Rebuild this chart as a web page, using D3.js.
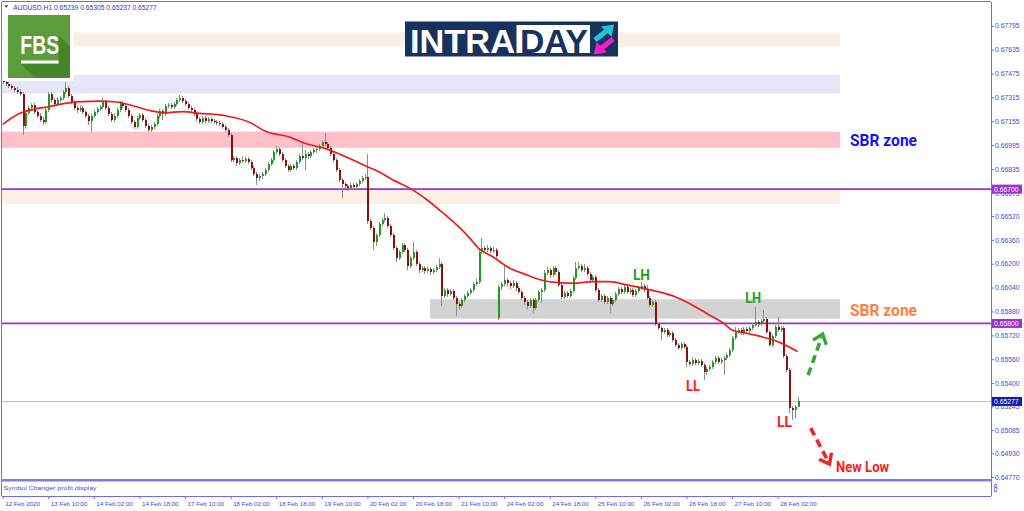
<!DOCTYPE html>
<html><head><meta charset="utf-8">
<script src="https://cdn.jsdelivr.net/npm/d3@7"></script>
<style>html,body{margin:0;padding:0;background:#fff;overflow:hidden}</style>
</head><body>
<svg id="chart" width="1024" height="511"></svg>
<script>
// ---------------- DATA (AUDUSD H1) ----------------
const symbolName = "AUDUSD,H1";
const barOpen = [
0.67431,0.67418,0.67404,0.67391,0.67377,0.67364,0.67351,0.67337,0.67123,0.67210,
0.67243,0.67264,0.67217,0.67190,0.67163,0.67150,0.67230,0.67337,0.67297,0.67270,
0.67297,0.67310,0.67351,0.67377,0.67324,0.67284,0.67243,0.67230,0.67243,0.67217,
0.67190,0.67156,0.67190,0.67217,0.67237,0.67250,0.67284,0.67243,0.67203,0.67163,
0.67190,0.67230,0.67277,0.67257,0.67230,0.67190,0.67150,0.67116,0.67176,0.67197,
0.67163,0.67123,0.67096,0.67116,0.67136,0.67190,0.67223,0.67203,0.67257,0.67264,
0.67250,0.67270,0.67297,0.67310,0.67290,0.67270,0.67243,0.67230,0.67203,0.67170,
0.67150,0.67176,0.67156,0.67170,0.67156,0.67150,0.67143,0.67136,0.67116,0.67096,
0.67063,0.66895,0.66908,0.66875,0.66895,0.66888,0.66902,0.66882,0.66841,0.66801,
0.66774,0.66788,0.66801,0.66828,0.66868,0.66895,0.66949,0.66969,0.66935,0.66895,
0.66855,0.66828,0.66855,0.66841,0.66882,0.66922,0.66908,0.66935,0.66922,0.66949,
0.66962,0.66969,0.66989,0.67016,0.67002,0.66975,0.66935,0.66895,0.66828,0.66761,
0.66734,0.66721,0.66707,0.66728,0.66714,0.66734,0.66754,0.66774,0.66781,0.66486,
0.66439,0.66346,0.66392,0.66466,0.66493,0.66506,0.66453,0.66392,0.66305,0.66239,
0.66279,0.66326,0.66292,0.66185,0.66239,0.66279,0.66198,0.66158,0.66171,0.66151,
0.66165,0.66145,0.66158,0.66178,0.66198,0.65984,0.66024,0.65997,0.66017,0.65970,
0.65930,0.65917,0.65957,0.65984,0.66004,0.66024,0.66064,0.66078,0.66279,0.66305,
0.66292,0.66305,0.66285,0.66292,0.65836,0.66044,0.66064,0.66091,0.66071,0.66051,
0.66071,0.66037,0.66011,0.65970,0.65943,0.65917,0.65957,0.65903,0.65957,0.66011,
0.66024,0.66138,0.66158,0.66125,0.66171,0.66145,0.66058,0.65977,0.66004,0.65984,
0.66017,0.66104,0.66171,0.66185,0.66158,0.66171,0.66131,0.66091,0.66111,0.66024,
0.65957,0.65984,0.65943,0.65970,0.65930,0.65957,0.65997,0.66031,0.66011,0.66044,
0.66011,0.66024,0.65991,0.66017,0.66037,0.66051,0.66024,0.65970,0.65923,0.65943,
0.65796,0.65769,0.65743,0.65756,0.65722,0.65736,0.65689,0.65655,0.65635,0.65662,
0.65642,0.65541,0.65528,0.65555,0.65534,0.65548,0.65521,0.65474,0.65494,0.65508,
0.65541,0.65568,0.65541,0.65555,0.65568,0.65588,0.65622,0.65702,0.65743,0.65756,
0.65736,0.65763,0.65749,0.65769,0.65789,0.65809,0.65796,0.65816,0.65830,0.65743,
0.65655,0.65716,0.65776,0.65756,0.65769,0.65582,0.65488,0.65233,0.65220,0.65239];
const barHigh = [
0.67444,0.67431,0.67418,0.67404,0.67391,0.67384,0.67371,0.67351,0.67223,0.67257,
0.67277,0.67277,0.67230,0.67210,0.67183,0.67243,0.67351,0.67351,0.67310,0.67317,
0.67324,0.67364,0.67418,0.67391,0.67337,0.67297,0.67257,0.67264,0.67257,0.67230,
0.67203,0.67203,0.67230,0.67250,0.67264,0.67310,0.67297,0.67257,0.67217,0.67210,
0.67243,0.67290,0.67290,0.67270,0.67243,0.67203,0.67163,0.67190,0.67210,0.67210,
0.67176,0.67136,0.67130,0.67150,0.67203,0.67237,0.67237,0.67270,0.67277,0.67277,
0.67284,0.67310,0.67331,0.67324,0.67304,0.67284,0.67257,0.67243,0.67217,0.67183,
0.67190,0.67190,0.67183,0.67183,0.67170,0.67163,0.67156,0.67150,0.67130,0.67109,
0.67076,0.66922,0.66922,0.66908,0.66915,0.66915,0.66915,0.66895,0.66855,0.66815,
0.66801,0.66815,0.66841,0.66882,0.66908,0.66962,0.66989,0.66982,0.66949,0.66908,
0.66868,0.66868,0.66868,0.66895,0.66935,0.67009,0.66962,0.66949,0.66962,0.66975,
0.66982,0.67002,0.67029,0.67076,0.67016,0.66989,0.66949,0.66908,0.66841,0.66774,
0.66748,0.66734,0.66741,0.66741,0.66748,0.66768,0.66788,0.66801,0.66935,0.66500,
0.66453,0.66406,0.66480,0.66506,0.66540,0.66520,0.66466,0.66406,0.66319,0.66292,
0.66339,0.66339,0.66305,0.66252,0.66346,0.66292,0.66212,0.66185,0.66185,0.66178,
0.66178,0.66171,0.66192,0.66239,0.66212,0.66037,0.66037,0.66031,0.66031,0.65984,
0.65943,0.65970,0.65997,0.66017,0.66037,0.66078,0.66098,0.66292,0.66372,0.66319,
0.66326,0.66319,0.66312,0.66305,0.66058,0.66078,0.66192,0.66104,0.66084,0.66091,
0.66084,0.66051,0.66024,0.65984,0.65957,0.65970,0.65970,0.65970,0.66024,0.66037,
0.66158,0.66178,0.66171,0.66185,0.66185,0.66158,0.66071,0.66017,0.66017,0.66031,
0.66118,0.66212,0.66212,0.66198,0.66198,0.66185,0.66145,0.66125,0.66125,0.66037,
0.65997,0.65997,0.65984,0.65984,0.65970,0.66011,0.66044,0.66044,0.66058,0.66058,
0.66037,0.66037,0.66031,0.66051,0.66078,0.66064,0.66058,0.65984,0.65957,0.65957,
0.65809,0.65783,0.65769,0.65769,0.65749,0.65749,0.65702,0.65669,0.65676,0.65676,
0.65655,0.65555,0.65575,0.65568,0.65562,0.65562,0.65534,0.65508,0.65521,0.65555,
0.65582,0.65582,0.65568,0.65582,0.65602,0.65635,0.65716,0.65776,0.65769,0.65769,
0.65776,0.65776,0.65783,0.65803,0.65910,0.65823,0.65830,0.65890,0.65843,0.65756,
0.65729,0.65789,0.65843,0.65783,0.65783,0.65595,0.65501,0.65247,0.65254,0.65305];
const barLow = [
0.67404,0.67391,0.67377,0.67364,0.67351,0.67337,0.67324,0.67063,0.67103,0.67197,
0.67223,0.67203,0.67176,0.67150,0.67130,0.67136,0.67217,0.67277,0.67250,0.67257,
0.67284,0.67297,0.67337,0.67310,0.67270,0.67230,0.67210,0.67217,0.67203,0.67176,
0.67130,0.67083,0.67176,0.67203,0.67223,0.67237,0.67230,0.67190,0.67150,0.67150,
0.67176,0.67217,0.67243,0.67217,0.67176,0.67136,0.67103,0.67103,0.67163,0.67150,
0.67109,0.67083,0.67083,0.67103,0.67123,0.67176,0.67163,0.67190,0.67243,0.67237,
0.67237,0.67257,0.67284,0.67277,0.67257,0.67230,0.67217,0.67190,0.67156,0.67136,
0.67136,0.67143,0.67143,0.67143,0.67136,0.67130,0.67123,0.67103,0.67083,0.67049,
0.66882,0.66882,0.66855,0.66862,0.66875,0.66875,0.66868,0.66828,0.66788,0.66728,
0.66754,0.66768,0.66788,0.66815,0.66855,0.66882,0.66935,0.66922,0.66882,0.66841,
0.66815,0.66815,0.66828,0.66828,0.66868,0.66895,0.66828,0.66902,0.66908,0.66935,
0.66942,0.66955,0.66975,0.66989,0.66962,0.66922,0.66882,0.66815,0.66748,0.66640,
0.66701,0.66687,0.66694,0.66694,0.66701,0.66721,0.66741,0.66761,0.66466,0.66426,
0.66292,0.66319,0.66379,0.66453,0.66480,0.66439,0.66379,0.66292,0.66212,0.66225,
0.66265,0.66279,0.66158,0.66171,0.66225,0.66185,0.66138,0.66145,0.66131,0.66138,
0.66125,0.66131,0.66145,0.66165,0.65917,0.65970,0.65977,0.65984,0.65957,0.65850,
0.65890,0.65903,0.65943,0.65970,0.65991,0.66011,0.66051,0.66064,0.66265,0.66272,
0.66279,0.66272,0.66272,0.66225,0.65823,0.66024,0.66051,0.66051,0.66031,0.66037,
0.66017,0.65997,0.65957,0.65923,0.65897,0.65903,0.65870,0.65890,0.65943,0.65937,
0.66011,0.66125,0.66104,0.66111,0.66125,0.66044,0.65964,0.65964,0.65970,0.65970,
0.66004,0.66091,0.66158,0.66145,0.66145,0.66118,0.66078,0.66078,0.66011,0.65943,
0.65943,0.65930,0.65930,0.65870,0.65917,0.65943,0.65984,0.65997,0.65997,0.65997,
0.65997,0.65977,0.65977,0.66004,0.66024,0.66011,0.65957,0.65910,0.65910,0.65783,
0.65756,0.65689,0.65729,0.65709,0.65709,0.65676,0.65642,0.65622,0.65622,0.65629,
0.65508,0.65514,0.65514,0.65521,0.65521,0.65508,0.65421,0.65454,0.65481,0.65494,
0.65528,0.65528,0.65528,0.65454,0.65555,0.65575,0.65609,0.65689,0.65729,0.65722,
0.65722,0.65729,0.65736,0.65756,0.65776,0.65776,0.65783,0.65803,0.65729,0.65642,
0.65642,0.65702,0.65743,0.65743,0.65568,0.65474,0.65200,0.65153,0.65167,0.65237];
const barClose = [
0.67418,0.67404,0.67391,0.67377,0.67364,0.67351,0.67337,0.67123,0.67210,0.67243,
0.67264,0.67217,0.67190,0.67163,0.67150,0.67230,0.67337,0.67297,0.67270,0.67297,
0.67310,0.67351,0.67377,0.67324,0.67284,0.67243,0.67230,0.67243,0.67217,0.67190,
0.67156,0.67190,0.67217,0.67237,0.67250,0.67284,0.67243,0.67203,0.67163,0.67190,
0.67230,0.67277,0.67257,0.67230,0.67190,0.67150,0.67116,0.67176,0.67197,0.67163,
0.67123,0.67096,0.67116,0.67136,0.67190,0.67223,0.67203,0.67257,0.67264,0.67250,
0.67270,0.67297,0.67310,0.67290,0.67270,0.67243,0.67230,0.67203,0.67170,0.67150,
0.67176,0.67156,0.67170,0.67156,0.67150,0.67143,0.67136,0.67116,0.67096,0.67063,
0.66895,0.66908,0.66875,0.66895,0.66888,0.66902,0.66882,0.66841,0.66801,0.66774,
0.66788,0.66801,0.66828,0.66868,0.66895,0.66949,0.66969,0.66935,0.66895,0.66855,
0.66828,0.66855,0.66841,0.66882,0.66922,0.66908,0.66935,0.66922,0.66949,0.66962,
0.66969,0.66989,0.67016,0.67002,0.66975,0.66935,0.66895,0.66828,0.66761,0.66734,
0.66721,0.66707,0.66728,0.66714,0.66734,0.66754,0.66774,0.66781,0.66486,0.66439,
0.66346,0.66392,0.66466,0.66493,0.66506,0.66453,0.66392,0.66305,0.66239,0.66279,
0.66326,0.66292,0.66185,0.66239,0.66279,0.66198,0.66158,0.66171,0.66151,0.66165,
0.66145,0.66158,0.66178,0.66198,0.65984,0.66024,0.65997,0.66017,0.65970,0.65930,
0.65917,0.65957,0.65984,0.66004,0.66024,0.66064,0.66078,0.66279,0.66305,0.66292,
0.66305,0.66285,0.66292,0.66252,0.66044,0.66064,0.66091,0.66071,0.66051,0.66071,
0.66037,0.66011,0.65970,0.65943,0.65917,0.65957,0.65903,0.65957,0.66011,0.66024,
0.66138,0.66158,0.66125,0.66171,0.66145,0.66058,0.65977,0.66004,0.65984,0.66017,
0.66104,0.66171,0.66185,0.66158,0.66171,0.66131,0.66091,0.66111,0.66024,0.65957,
0.65984,0.65943,0.65970,0.65930,0.65957,0.65997,0.66031,0.66011,0.66044,0.66011,
0.66024,0.65991,0.66017,0.66037,0.66051,0.66024,0.65970,0.65923,0.65943,0.65796,
0.65769,0.65743,0.65756,0.65722,0.65736,0.65689,0.65655,0.65635,0.65662,0.65642,
0.65541,0.65528,0.65555,0.65534,0.65548,0.65521,0.65474,0.65494,0.65508,0.65541,
0.65568,0.65541,0.65555,0.65568,0.65588,0.65622,0.65702,0.65743,0.65756,0.65736,
0.65763,0.65749,0.65769,0.65789,0.65809,0.65796,0.65816,0.65830,0.65743,0.65655,
0.65716,0.65776,0.65756,0.65769,0.65582,0.65488,0.65233,0.65220,0.65239,0.65277];

// moving average (red line) read at these bar indexes
const maBar   = [0,6,11,16,22,28,34,40,46,52,57,63,69,78,87,92,101,106,113,119,128,132,137,143,149,154,160,164,167,172,178,184,189,195,201,207,213,219,225,230,236,242,248,253,256,261,267,272,279];
const maValue = [0.67134,0.67208,0.67235,0.67252,0.67275,0.67286,0.67290,0.67284,0.67257,0.67225,0.67212,0.67219,0.67208,0.67192,0.67145,0.67089,0.67047,0.67007,0.66973,0.66929,0.66850,0.66817,0.66761,0.66705,0.66627,0.66549,0.66448,0.66370,0.66303,0.66247,0.66169,0.66125,0.66091,0.66073,0.66069,0.66080,0.66080,0.66058,0.66035,0.66013,0.65979,0.65924,0.65857,0.65801,0.65756,0.65734,0.65707,0.65678,0.65611];

// price axis tick labels
const priceTicks = ["0.67795","0.67635","0.67475","0.67315","0.67155","0.66995","0.66835","0.66675","0.66520","0.66360","0.66200","0.66040","0.65880","0.65720","0.65560","0.65400","0.65245","0.65085","0.64930","0.64770"];
// time axis labels and the bars they sit on
const timeLabels = ["12 Feb 2020","13 Feb 10:00","14 Feb 02:00","14 Feb 18:00","17 Feb 10:00","18 Feb 02:00","18 Feb 18:00","19 Feb 10:00","20 Feb 02:00","20 Feb 18:00","21 Feb 10:00","24 Feb 02:00","24 Feb 18:00","25 Feb 10:00","26 Feb 02:00","26 Feb 18:00","27 Feb 10:00","28 Feb 02:00"];
const timeLabelBars = [0,16,32,48,64,80,96,112,128,144,160,176,192,208,224,240,256,272];

// zones (price ranges) and the bar span they cover
const zoneHigh  = [0.67751,0.67465,0.67085,0.66694,0.65962];
const zoneLow   = [0.67654,0.67342,0.66977,0.66600,0.65832];
const zoneStart = [-2,-2,-2,-2,150];
const zoneEnd   = [293.9,293.9,293.9,293.9,293.9];
// horizontal levels
const levelPrices = [0.66700, 0.65800];
const bidPrice = 0.65277;

// annotations: [text, bar, price]
const annoText  = ["SBR zone","SBR zone","LH","LH","LL","LL","New Low"];
const annoBar   = [297.4, 297.4, 221.2, 260.6, 239.8, 271.8, 292.5];
const annoPrice = [0.66991, 0.65850, 0.66091, 0.65939, 0.65347, 0.65108, 0.64807];
// projection arrows: from (bar, price) to (bar, price)
const arrowFromBar=[282.7,283.6], arrowFromPrice=[0.65454,0.65098];
const arrowToBar  =[287.8,290.2], arrowToPrice  =[0.65729,0.64858];

// ---------------- DRAW ----------------
const svg = d3.select("#chart");
const FRAME = "#6b6bec", TXT = "#4747d4";
const plotL = 1.5, plotR = 991, plotT = 2, plotB = 479;

const x = d3.scaleLinear().domain([0, 279]).range([2.7, 797.6]);
const y = d3.scaleLinear().domain([0.64764, 0.67934]).range([478, 5]);

svg.append("rect").attr("width",1024).attr("height",511).attr("fill","#fff");
svg.append("defs").append("clipPath").attr("id","pc").append("rect")
  .attr("x",plotL).attr("y",plotT).attr("width",plotR-plotL).attr("height",plotB-plotT);
const plot = svg.append("g").attr("clip-path","url(#pc)");

// zones
const zoneFill = ["#faefe5","#e6e6fa","#ffc0cb","#faf0e6","#d3d3d3"];
plot.selectAll("rect.zone").data(zoneHigh).join("rect").attr("class","zone")
  .attr("x",(d,i)=>x(zoneStart[i])).attr("width",(d,i)=>x(zoneEnd[i])-x(zoneStart[i]))
  .attr("y",d=>y(d)).attr("height",(d,i)=>y(zoneLow[i])-y(d))
  .attr("fill",(d,i)=>zoneFill[i]);

// level lines
plot.selectAll("line.lvl").data(levelPrices).join("line").attr("class","lvl")
  .attr("x1",plotL).attr("x2",plotR).attr("y1",d=>y(d)).attr("y2",d=>y(d))
  .attr("stroke","#9b32d2").attr("stroke-width",1.6);
plot.append("line").attr("x1",plotL).attr("x2",plotR).attr("y1",y(bidPrice)).attr("y2",y(bidPrice))
  .attr("stroke","#c0c0c0").attr("stroke-width",1);

// candles
const bars = barOpen.map((o,i)=>({i,o,h:barHigh[i],l:barLow[i],c:barClose[i]}));
const cg = plot.append("g").attr("shape-rendering","crispEdges");
cg.selectAll("rect.wick").data(bars).join("rect").attr("class","wick")
  .attr("x",d=>Math.round(x(d.i))).attr("width",1)
  .attr("y",d=>y(d.h)).attr("height",d=>Math.max(1,y(d.l)-y(d.h)))
  .attr("fill","#8c8c8c");
cg.selectAll("rect.body").data(bars).join("rect").attr("class","body")
  .attr("x",d=>Math.round(x(d.i))-0.5).attr("width",2)
  .attr("y",d=>y(Math.max(d.o,d.c))).attr("height",d=>Math.max(1,Math.abs(y(d.o)-y(d.c))))
  .attr("fill",d=>d.c>=d.o?"#1f9c1f":"#8d1010");

// moving average
const maPts = maBar.map((b,i)=>[b,maValue[i]]);
plot.append("path").datum(maPts)
  .attr("d",d3.line().x(d=>x(d[0])).y(d=>y(d[1])).curve(d3.curveMonotoneX))
  .attr("fill","none").attr("stroke","#ee1d1d").attr("stroke-width",1.7);

// annotations
const annoColor = ["#1414ec","#ff7f3f","#22a022","#22a022","#ff1a1a","#ff1a1a","#ff1a1a"];
const annoSize  = [17,17,14,14,14,14,14.5];
const annoLen   = [67,67,17,16,14,15,53];
svg.selectAll("text.anno").data(annoText).join("text").attr("class","anno")
  .attr("x",(d,i)=>x(annoBar[i])).attr("y",(d,i)=>y(annoPrice[i]))
  .attr("font-family","Roboto, 'Open Sans', sans-serif").attr("font-weight",700)
  .attr("font-size",(d,i)=>annoSize[i]).attr("fill",(d,i)=>annoColor[i])
  .attr("textLength",(d,i)=>annoLen[i]).attr("lengthAdjust","spacingAndGlyphs")
  .text(d=>d);

const arrowColor = ["#36a836","#ee2424"];
arrowFromBar.forEach((fb,i)=>{
  const x0=x(fb), y0=y(arrowFromPrice[i]), x1=x(arrowToBar[i]), y1=y(arrowToPrice[i]);
  const ang=Math.atan2(y1-y0,x1-x0), L=Math.hypot(x1-x0,y1-y0);
  const g=svg.append("g").attr("transform",`translate(${x0},${y0}) rotate(${ang*180/Math.PI})`);
  g.append("line").attr("x1",0).attr("y1",0).attr("x2",L-3).attr("y2",0)
    .attr("stroke",arrowColor[i]).attr("stroke-width",3.6).attr("stroke-dasharray","8,5");
  g.append("path").attr("d",`M${L-9},-7 L${L},0 L${L-9},7`)
    .attr("fill","none").attr("stroke",arrowColor[i]).attr("stroke-width",3.4);
});

// frames
const fr = svg.append("g").attr("fill","none").attr("stroke",FRAME).attr("shape-rendering","crispEdges");
fr.append("line").attr("x1",1.5).attr("x2",plotR).attr("y1",1.5).attr("y2",1.5);
fr.append("line").attr("x1",1.5).attr("x2",1.5).attr("y1",1.5).attr("y2",496);
fr.append("line").attr("x1",plotR).attr("x2",plotR).attr("y1",1.5).attr("y2",496);
fr.append("line").attr("x1",1.5).attr("x2",plotR).attr("y1",496).attr("y2",496);
svg.append("rect").attr("x",1).attr("y",479).attr("width",plotR).attr("height",2.5).attr("fill","#7c7ce4");

// price axis
const yAxis = d3.axisRight(y).tickValues(priceTicks.map(Number)).tickFormat((d,i)=>priceTicks[i])
  .tickSize(3).tickPadding(1);
const ya = svg.append("g").attr("transform",`translate(${plotR},0)`).call(yAxis);
ya.select(".domain").remove();
ya.selectAll("line").attr("stroke",FRAME);
ya.selectAll("text").attr("fill",TXT).attr("font-family","'Liberation Sans', Arial, sans-serif")
  .attr("font-size",6.8);

// time axis
const xAxis = d3.axisBottom(x).tickValues(timeLabelBars).tickFormat((d,i)=>timeLabels[i])
  .tickSize(3).tickPadding(3);
const xa = svg.append("g").attr("transform","translate(0,496)").call(xAxis);
xa.select(".domain").remove();
xa.selectAll("line").attr("stroke",FRAME);
xa.selectAll("text").attr("fill",TXT).attr("font-family","'Liberation Sans', Arial, sans-serif")
  .attr("font-size",6.2).attr("text-anchor","start").attr("x",2);

// price boxes on the axis
const boxes = levelPrices.map(p=>({p,fill:"#9b32d2"})).concat([{p:bidPrice,fill:"#1a1aa8"}]);
const bx = svg.selectAll("g.box").data(boxes).join("g").attr("class","box")
  .attr("transform",d=>`translate(${plotR+1},${y(d.p)})`);
bx.append("rect").attr("x",0).attr("y",-4.5).attr("width",30).attr("height",9).attr("fill",d=>d.fill);
bx.append("text").attr("x",2).attr("y",2.5).attr("fill","#fff")
  .attr("font-family","'Liberation Sans', Arial, sans-serif").attr("font-size",6.8)
  .text(d=>d.p.toFixed(5));

// sub window
svg.append("text").attr("x",3.5).attr("y",489.5).attr("fill",TXT)
  .attr("font-family","'Liberation Sans', Arial, sans-serif").attr("font-size",6.2)
  .attr("textLength",93).attr("lengthAdjust","spacingAndGlyphs").text("Symbol Changer profit display");
svg.append("text").attr("x",993.5).attr("y",492).attr("fill",TXT)
  .attr("font-family","'Liberation Sans', Arial, sans-serif").attr("font-size",10)
  .attr("textLength",4).attr("lengthAdjust","spacingAndGlyphs").text("8");

// header
const last = bars[bars.length-1];
svg.append("path").attr("d","M4.3,5.2 L8.3,5.2 L6.3,7.8 Z").attr("fill","#2f2fc8");
svg.append("text").attr("x",13.3).attr("y",9.6).attr("fill","#3232cc")
  .attr("font-family","'Liberation Sans', Arial, sans-serif").attr("font-size",7)
  .attr("textLength",143.5).attr("lengthAdjust","spacingAndGlyphs")
  .text(`${symbolName}  ${last.o.toFixed(5)} ${last.h.toFixed(5)} ${last.l.toFixed(5)} ${last.c.toFixed(5)}`);

// FBS logo
const fbs = svg.append("g");
fbs.append("rect").attr("x",2.5).attr("y",10).attr("width",71).attr("height",71).attr("fill","#fff");
fbs.append("rect").attr("x",8).attr("y",15).attr("width",62).attr("height",63).attr("fill","#5d9c3d");
fbs.append("path").attr("d","M58.5,35 L70,46.5 L70,78 L35,78 L21,64 L58.5,64 Z").attr("fill","#44842b");
fbs.append("text").attr("x",20.3).attr("y",53.5).attr("fill","#fff")
  .attr("font-family","'Liberation Sans', Arial, sans-serif").attr("font-weight",700).attr("font-size",25)
  .attr("textLength",38.8).attr("lengthAdjust","spacingAndGlyphs").text("FBS");
fbs.append("rect").attr("x",21).attr("y",60.5).attr("width",37.5).attr("height",3).attr("fill","#fff");

// INTRADAY logo
const intra = svg.append("g");
intra.append("rect").attr("x",405).attr("y",21.5).attr("width",213).attr("height",35).attr("fill","#18325e");
intra.append("text").attr("x",410).attr("y",52.8).attr("fill","#fff")
  .attr("font-family","'Liberation Sans', Arial, sans-serif").attr("font-weight",700).attr("font-size",34)
  .attr("textLength",105).attr("lengthAdjust","spacingAndGlyphs").text("INTRA");
intra.append("rect").attr("x",516.5).attr("y",25).attr("width",73.5).attr("height",28).attr("fill","#fff");
intra.append("text").attr("x",520).attr("y",52.8).attr("fill","#18325e")
  .attr("font-family","'Liberation Sans', Arial, sans-serif").attr("font-weight",700).attr("font-size",34)
  .attr("textLength",68).attr("lengthAdjust","spacingAndGlyphs").text("DAY");
intra.append("line").attr("x1",595).attr("y1",40).attr("x2",607).attr("y2",30.5)
  .attr("stroke","#1fc6d3").attr("stroke-width",5);
intra.append("path").attr("d","M614,24.5 L601,26.5 L611.5,37 Z").attr("fill","#1fc6d3");
intra.append("line").attr("x1",613).attr("y1",39).attr("x2",601).attr("y2",48.5)
  .attr("stroke","#f020c8").attr("stroke-width",5);
intra.append("path").attr("d","M594,54.5 L607,52.5 L596.5,42 Z").attr("fill","#f020c8");
</script>
</body></html>
